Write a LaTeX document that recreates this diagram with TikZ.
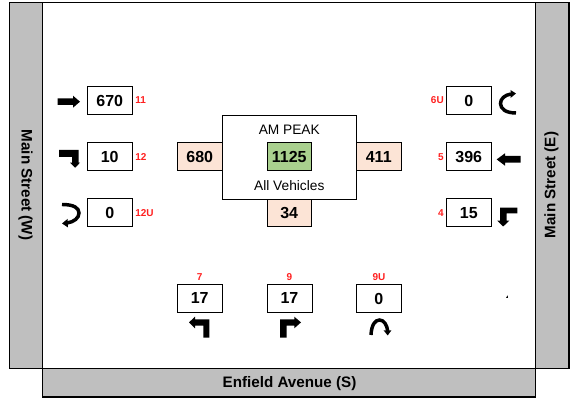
\documentclass[tikz,border=0pt]{standalone}
\usepackage{fontspec}
\setmainfont{Liberation Sans}
\definecolor{roadgray}{HTML}{BFBFBF}
\definecolor{peach}{HTML}{FCE4D6}
\definecolor{peakgreen}{HTML}{A9D08E}
\definecolor{movered}{HTML}{FF2020}
\tikzset{
  x=0.75pt,y=-0.75pt,
  road/.style={draw=black,line width=0.9pt,fill=roadgray},
  countbox/.style={draw=black,line width=0.75pt,fill=white,font=\fontsize{12}{12}\selectfont\bfseries,text=black},
  approach/.style={countbox,fill=peach},
  total/.style={countbox,fill=peakgreen},
  movelabel/.style={font=\fontsize{7.5}{8}\selectfont\bfseries,text=movered,inner sep=0pt},
  roadlabel/.style={font=\fontsize{11.4}{12}\selectfont\bfseries,text=black,inner sep=0pt},
  peaklabel/.style={font=\fontsize{10.3}{12}\selectfont,text=black,inner sep=0pt},
  glyph/.style={fill=black,draw=none},
  ucurve/.style={draw=black,line width=2.6pt,line cap=butt}
}
\begin{document}
\begin{tikzpicture}
\useasboundingbox (0,0) rectangle (572,398);
\fill[white] (0,0) rectangle (572,398);
% frame and roads
\draw[black,line width=0.9pt] (42.5,2.5) -- (535.5,2.5);
\draw[road] (9.5,2.5) rectangle (42.5,368.5);
\draw[road] (535.5,2.5) rectangle (569,368.5);
\draw[road] (42.5,368.5) rectangle (535.5,397);
\node[roadlabel,rotate=-90] (west) at (25.5,185) {Main Street (W)};
\node[roadlabel,rotate=90] (east) at (551.5,185) {Main Street (E)};
\node[roadlabel] (south) at (289.5,383.5) {Enfield Avenue (S)};
% approach totals behind the centre
\draw[approach] (177,143) rectangle (222.5,171) node[midway,text=black] (tw) {680};
\draw[approach] (356,143) rectangle (401.5,171) node[midway,text=black] (te) {411};
\draw[approach] (267,199) rectangle (311.5,227) node[midway,text=black] (ts) {34};
% centre
\draw[draw=black,line width=0.75pt,fill=white] (222.3,115.3) rectangle (356,199.3);
\draw[total] (267,143) rectangle (311.5,171) node[midway,text=black] (tc) {1125};
\node[peaklabel] (peak) at (289.3,129.5) {AM PEAK};
\node[peaklabel] (veh) at (289.3,185.5) {All Vehicles};
% count boxes
\draw[countbox] (87,86.5) rectangle (132.5,115) node[midway] (b11) {670};
\draw[countbox] (87,143) rectangle (132.5,171) node[midway] (b12) {10};
\draw[countbox] (87,199) rectangle (132.5,227) node[midway] (b12u) {0};
\draw[countbox] (446,86.5) rectangle (491.5,115) node[midway] (b6u) {0};
\draw[countbox] (446,143) rectangle (491.5,171) node[midway] (b5) {396};
\draw[countbox] (446,199) rectangle (491.5,227) node[midway] (b4) {15};
\draw[countbox] (177,284.5) rectangle (222.5,312.5) node[midway] (b7) {17};
\draw[countbox] (267,284.5) rectangle (312,312.5) node[midway] (b9) {17};
\draw[countbox] (356,284.5) rectangle (401.5,312.5) node[midway] (b9u) {0};
% movement numbers
\node[movelabel,anchor=west] (m11) at (135,100.5) {11};
\node[movelabel,anchor=west] (m12) at (135,157.5) {12};
\node[movelabel,anchor=west] (m12u) at (135,213.5) {12U};
\node[movelabel,anchor=east] (m6u) at (444,100.5) {6U};
\node[movelabel,anchor=east] (m5) at (444,157.5) {5};
\node[movelabel,anchor=east] (m4) at (444,213.5) {4};
\node[movelabel] (m7) at (199.7,277.5) {7};
\node[movelabel] (m9) at (289.5,277.5) {9};
\node[movelabel] (m9u) at (379,277.5) {9U};
% movement arrows
\fill[glyph] (57.5,98.5) -- (73,98.5) -- (73,95.7) -- (80,101.7) -- (73,107.7) -- (73,105) -- (57.5,105) -- cycle;
\fill[glyph] (59,150) -- (78.5,150) -- (78.5,162.7) -- (80,162.7) -- (75.2,167.7) -- (70,162.7) -- (72,162.7) -- (72,157) -- (59,157) -- cycle;
\draw[ucurve] (62,204.5) .. controls (74,204.5) and (79,208) .. (79,213) .. controls (79,218) and (74,222) .. (67,223);
\fill[glyph] (62,223.5) -- (67.5,219) -- (68,227.5) -- cycle;
\draw[ucurve] (516,113) .. controls (506,113) and (500.5,109) .. (500.5,103.5) .. controls (500.5,98.5) and (505,95) .. (511,94);
\fill[glyph] (516,93.5) -- (510.5,90) -- (510.5,98) -- cycle;
\fill[glyph] (496.7,159.4) -- (505,153.3) -- (505,156) -- (520.7,156) -- (520.7,162.7) -- (505,162.7) -- (505,165.7) -- cycle;
\fill[glyph] (517.3,207.7) -- (500,207.7) -- (500,220.7) -- (497.3,220.7) -- (503.2,226.5) -- (509.3,220.7) -- (506.7,220.7) -- (506.7,213.3) -- (517.3,213.3) -- cycle;
\fill[glyph] (189,322.4) -- (195,316.7) -- (195,319.3) -- (209.3,319.3) -- (209.3,337.7) -- (203.3,337.7) -- (203.3,325.7) -- (195,325.7) -- (195,328.3) -- cycle;
\fill[glyph] (301,322.4) -- (294.3,316.7) -- (294.3,319.3) -- (280,319.3) -- (280,337.7) -- (286.7,337.7) -- (286.7,325.7) -- (294.3,325.7) -- (294.3,328.3) -- cycle;
\draw[ucurve] (371,335) .. controls (371.5,325) and (375,320) .. (379.5,320) .. controls (384,320) and (387,325) .. (387.7,331);
\fill[glyph] (387.7,335.5) -- (383.7,330.5) -- (391.3,330.5) -- cycle;
\fill[glyph] (506,298) -- (507.6,295.3) -- (508,298) -- cycle;
\end{tikzpicture}
\end{document}
